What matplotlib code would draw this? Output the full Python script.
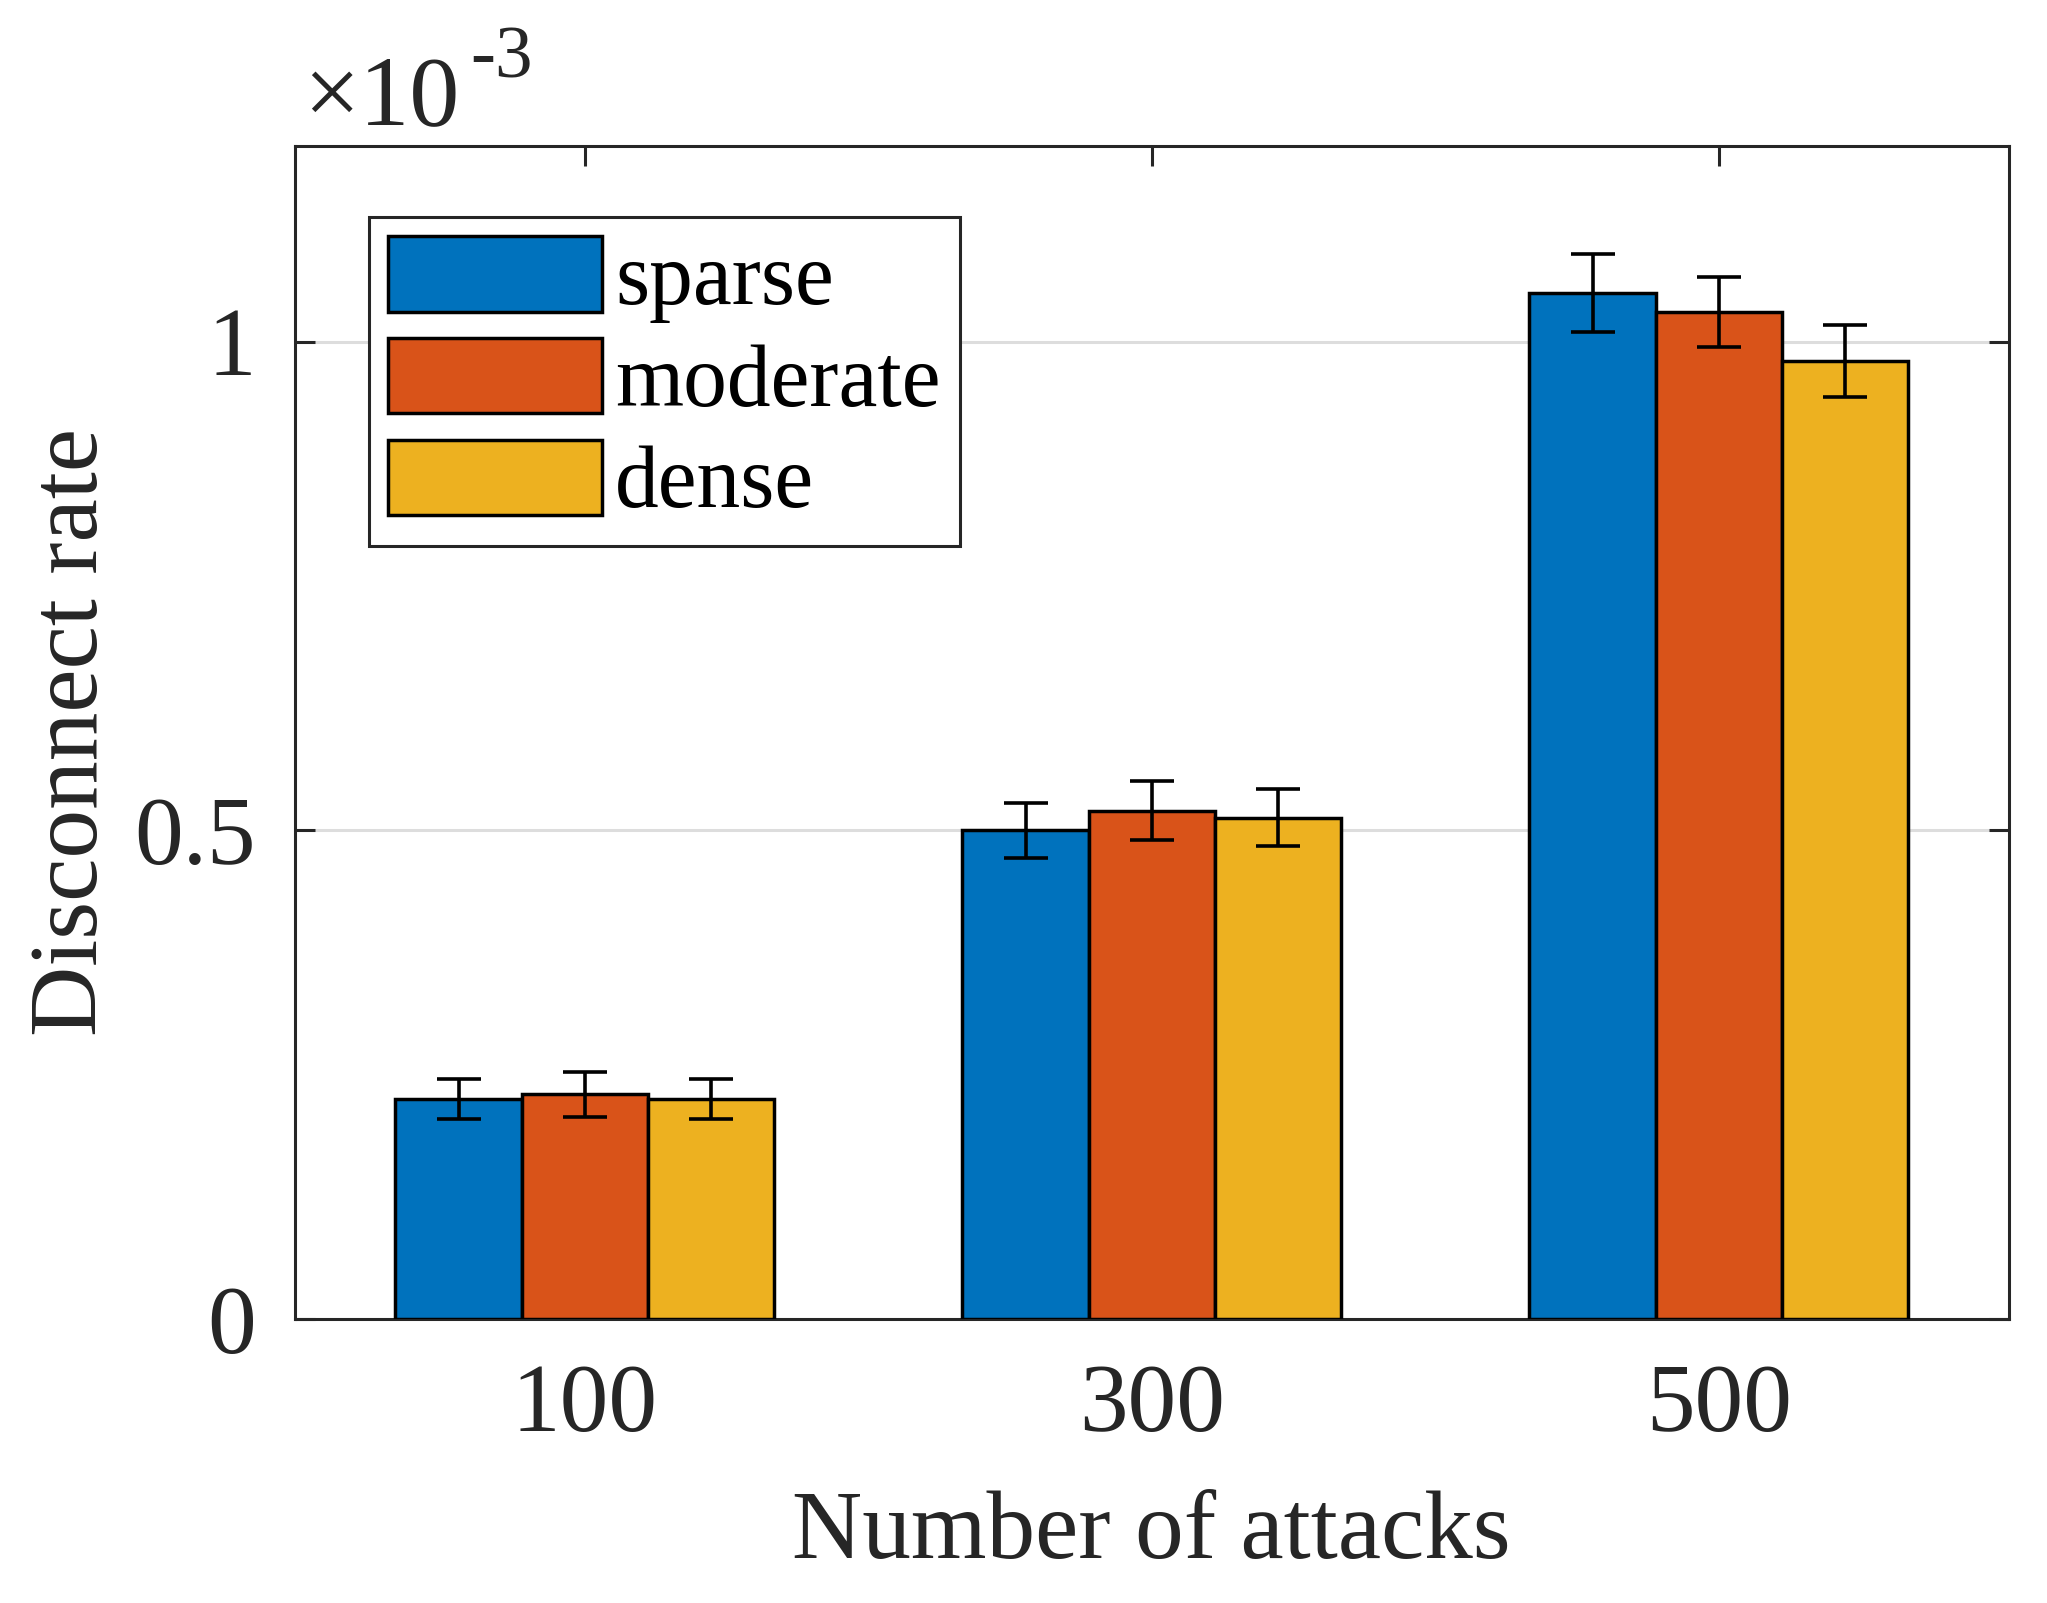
import numpy as np
import matplotlib.pyplot as plt
from matplotlib.ticker import FuncFormatter

plt.rcParams['font.family'] = ['Liberation Serif', 'DejaVu Serif']

# data (disconnect rate, real units)
attacks = ["100", "300", "500"]
series = ["sparse", "moderate", "dense"]
sparse = [0.225e-3, 0.500e-3, 1.050e-3]
moderate = [0.230e-3, 0.520e-3, 1.030e-3]
dense = [0.225e-3, 0.513e-3, 0.980e-3]
sparse_err = [0.020e-3, 0.028e-3, 0.040e-3]
moderate_err = [0.023e-3, 0.030e-3, 0.036e-3]
dense_err = [0.020e-3, 0.029e-3, 0.037e-3]

SCALE = 1e-3
colors = ["#0072BD", "#D95319", "#EDB120"]
axcol = "#262626"

fig = plt.figure(figsize=(10.235, 8.015), dpi=200)
ax = fig.add_axes([0.1439, 0.1772, 0.9813 - 0.1439, 0.9089 - 0.1772])

x = np.arange(len(attacks))
w = 0.2228
vals = [sparse, moderate, dense]
errs = [sparse_err, moderate_err, dense_err]
for k in range(3):
    pos = x + (k - 1) * w
    v = np.array(vals[k]) / SCALE
    e = np.array(errs[k]) / SCALE
    ax.bar(pos, v, w, color=colors[k], edgecolor="black", linewidth=1.25,
           label=series[k], zorder=3)
    ax.errorbar(pos, v, yerr=e, fmt="none", ecolor="black", elinewidth=1.3,
                capsize=7.9, capthick=1.3, zorder=4)

ax.set_xlim(-0.512, 2.511)
ax.set_ylim(0, 1.2)
ax.set_xticks(x)
ax.set_xticklabels(attacks)
ax.set_yticks([0, 0.5, 1])
ax.yaxis.set_major_formatter(FuncFormatter(lambda v, p: "%g" % v))

ax.yaxis.grid(True, color="#dddddd", linewidth=1.1, zorder=0)
ax.set_axisbelow(True)

for s in ax.spines.values():
    s.set_color(axcol)
    s.set_linewidth(1.1)
ax.tick_params(direction="in", length=7.2, width=1.1, color=axcol,
               labelsize=35, labelcolor=axcol, top=True, right=True)
ax.tick_params(axis="x", pad=16)
ax.tick_params(axis="y", pad=14)

ax.set_xlabel("Number of attacks", fontsize=35, color=axcol, labelpad=14)
ax.set_ylabel("Disconnect rate", fontsize=35, color=axcol, labelpad=6)

# exponent label
fig.text(303 / 2047, 1 - 124 / 1603, "\u00d710", fontsize=36, color=axcol,
         ha="left", va="baseline")
fig.text(470 / 2047, 1 - 77 / 1603, "-3", fontsize=27, color=axcol,
         ha="left", va="baseline")

leg = ax.legend(loc="upper left", bbox_to_anchor=(0.0432, 0.9395),
                borderaxespad=0, fontsize=31.5, frameon=True, fancybox=False,
                handlelength=2.45, handleheight=0.95, handletextpad=0.15,
                labelspacing=0.17, borderpad=0.22)
leg.get_frame().set_edgecolor(axcol)
leg.get_frame().set_linewidth(1.1)
leg.get_frame().set_alpha(1)

fig.savefig("out.png", dpi=200)
